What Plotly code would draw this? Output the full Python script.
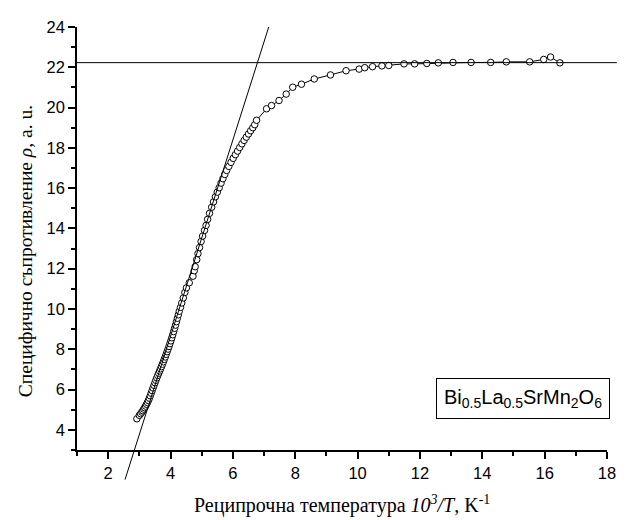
import plotly.graph_objects as go

# Reciprocal temperature 10^3/T (K^-1) and resistivity rho (a.u.)
inv_T = [2.92, 3.00, 3.04, 3.08, 3.11, 3.14, 3.17, 3.20, 3.23, 3.26, 3.29, 3.32, 3.35,
         3.38, 3.41, 3.44, 3.47, 3.50, 3.53, 3.56, 3.59, 3.62, 3.65, 3.68, 3.71, 3.74,
         3.77, 3.80, 3.83, 3.86, 3.89, 3.92, 3.95, 3.98, 4.01, 4.04, 4.07, 4.10, 4.13,
         4.16, 4.19, 4.22, 4.25, 4.28, 4.32, 4.36, 4.41, 4.46, 4.51, 4.60, 4.72, 4.76,
         4.79, 4.84, 4.88, 4.93, 4.98, 5.03, 5.09, 5.14, 5.19, 5.25, 5.32, 5.38, 5.44,
         5.50, 5.56, 5.62, 5.68, 5.74, 5.80, 5.87, 5.94, 6.01, 6.08, 6.15, 6.22, 6.29,
         6.36, 6.43, 6.50, 6.57, 6.64, 6.70, 6.76,
         7.08, 7.24, 7.48, 7.71, 7.92, 8.20, 8.61, 9.13, 9.63, 10.05, 10.23, 10.48,
         10.78, 11.00, 11.49, 11.83, 12.22, 12.59, 13.06, 13.64, 14.27, 14.77, 15.52,
         15.97, 16.19, 16.49]
rho = [4.55, 4.72, 4.80, 4.88, 4.95, 5.03, 5.10, 5.18, 5.27, 5.36, 5.46, 5.57, 5.69,
       5.82, 5.95, 6.08, 6.21, 6.34, 6.46, 6.58, 6.70, 6.81, 6.92, 7.03, 7.14, 7.26,
       7.38, 7.50, 7.62, 7.75, 7.88, 8.01, 8.14, 8.28, 8.42, 8.57, 8.72, 8.88, 9.04,
       9.20, 9.37, 9.54, 9.71, 9.89, 10.08, 10.30, 10.55, 10.82, 11.05, 11.30, 11.63, 11.90,
       12.10, 12.45, 12.75, 13.05, 13.35, 13.62, 13.90, 14.15, 14.45, 14.75, 15.05, 15.32, 15.57,
       15.80, 16.02, 16.25, 16.47, 16.68, 16.88, 17.08, 17.28, 17.48, 17.66, 17.84, 18.02, 18.20,
       18.37, 18.53, 18.69, 18.85, 19.00, 19.15, 19.37,
       19.94, 20.10, 20.35, 20.67, 21.01, 21.16, 21.42, 21.62, 21.83, 21.91, 21.98, 22.03,
       22.07, 22.09, 22.17, 22.17, 22.19, 22.22, 22.24, 22.24, 22.24, 22.27, 22.27,
       22.39, 22.51, 22.22]

# Tangent line end points and plateau level
tangent_x = [2.54, 7.15]
tangent_y = [1.53, 24.0]
plateau_rho = 22.23

x_range = [1, 18]
y_range = [3, 24]

x_ticks = [2, 4, 6, 8, 10, 12, 14, 16, 18]
y_ticks = [4, 6, 8, 10, 12, 14, 16, 18, 20, 22, 24]

SANS = "Arial, Liberation Sans, sans-serif"
SERIF = "Times New Roman, Liberation Serif, serif"

# page body offsets the figure by 8px; figure sized so the plot area
# lands at x 77..616, y 20..450 of the page
W, H = 618, 512
ML, MR, MT, MB = 69, 10, 12, 70
PW, PH = W - ML - MR, H - MT - MB

fig = go.Figure()
fig.add_trace(go.Scatter(
    x=inv_T, y=rho, mode="lines+markers",
    line=dict(color="black", width=1),
    marker=dict(symbol="circle", size=6.5, color="white",
                line=dict(color="black", width=1)),
    showlegend=False, hoverinfo="skip",
))

def to_paper_y(v):
    return (v - y_range[0]) / (y_range[1] - y_range[0])

# plateau line (extends past the axis end, to the page edge)
fig.add_shape(type="line", xref="paper", yref="y",
              x0=0, x1=(PW + MR) / PW, y0=plateau_rho, y1=plateau_rho,
              line=dict(color="black", width=1))
# tangent line (extends below the x axis)
fig.add_shape(type="line", xref="x", yref="paper",
              x0=tangent_x[0], x1=tangent_x[1],
              y0=to_paper_y(tangent_y[0]), y1=to_paper_y(tangent_y[1]),
              line=dict(color="black", width=1))

fig.add_annotation(
    xref="paper", yref="paper", x=(531 - 77) / PW, y=(450 - 397.5) / PH,
    xanchor="center", yanchor="middle", showarrow=False,
    text="Bi<sub>0.5</sub>La<sub>0.5</sub>SrMn<sub>2</sub>O<sub>6</sub>",
    font=dict(family=SANS, size=20, color="black"),
    bordercolor="black", borderwidth=1, borderpad=7, bgcolor="white",
)

fig.add_annotation(
    xref="paper", yref="paper", x=(24 - 77) / PW, y=(450 - 248) / PH,
    xanchor="center", yanchor="middle", showarrow=False, textangle=-90,
    text="Специфично съпротивление <i>ρ</i>, a. u.",
    font=dict(family=SERIF, size=19.5, color="black"),
)
fig.add_annotation(
    xref="paper", yref="paper", x=0.5, y=-(505 - 450) / PH,
    xanchor="center", yanchor="middle", showarrow=False,
    text="Реципрочна температура <i>10<sup>3</sup>/T</i>, K<sup>-1</sup>",
    font=dict(family=SERIF, size=20, color="black"),
)

axis_common = dict(
    showgrid=False, zeroline=False, showline=True, linecolor="black", linewidth=1.5,
    ticks="outside", ticklen=7, tickwidth=1.5, tickcolor="black",
    tickfont=dict(family=SANS, size=16.5, color="black"),
    mirror=False,
)
fig.update_xaxes(range=x_range, tickvals=x_ticks, **axis_common,
                 minor=dict(dtick=1, tick0=0, ticks="outside", ticklen=4,
                            tickwidth=1.5, tickcolor="black"))
fig.update_yaxes(range=y_range, tickvals=y_ticks, **axis_common,
                 minor=dict(dtick=1, tick0=1, ticks="outside", ticklen=4,
                            tickwidth=1.5, tickcolor="black"))

fig.update_layout(
    width=W, height=H,
    margin=dict(l=ML, r=MR, t=MT, b=MB),
    plot_bgcolor="white", paper_bgcolor="white",
    showlegend=False,
)

fig.write_html("out.html")
